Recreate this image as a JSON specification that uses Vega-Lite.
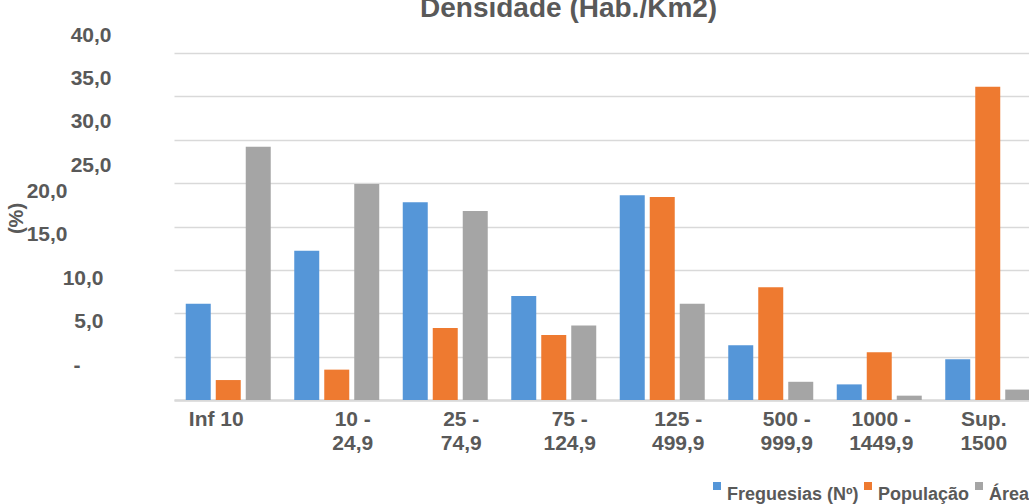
{
  "$schema": "https://vega.github.io/schema/vega-lite/v6.json",
  "width": 855,
  "height": 347,
  "autosize": {"type": "none"},
  "padding": {"left": 174, "top": 53, "right": 0, "bottom": 104},
  "background": "white",
  "title": {
    "text": "Densidade (Hab./Km2)",
    "font": "Liberation Sans",
    "fontSize": 28,
    "fontWeight": "bold",
    "color": "#595959",
    "anchor": "start",
    "frame": "group",
    "dx": 246,
    "dy": 21,
    "baseline": "alphabetic",
    "offset": 0
  },
  "data": {
    "values": [
      {"dens": "Inf 10", "serie": "Freguesias (Nº)", "valor": 11.1},
      {"dens": "Inf 10", "serie": "População", "valor": 2.3},
      {"dens": "Inf 10", "serie": "Área", "valor": 29.2},
      {"dens": "10 -\n24,9", "serie": "Freguesias (Nº)", "valor": 17.2},
      {"dens": "10 -\n24,9", "serie": "População", "valor": 3.5},
      {"dens": "10 -\n24,9", "serie": "Área", "valor": 24.9},
      {"dens": "25 -\n74,9", "serie": "Freguesias (Nº)", "valor": 22.8},
      {"dens": "25 -\n74,9", "serie": "População", "valor": 8.3},
      {"dens": "25 -\n74,9", "serie": "Área", "valor": 21.8},
      {"dens": "75 -\n124,9", "serie": "Freguesias (Nº)", "valor": 12.0},
      {"dens": "75 -\n124,9", "serie": "População", "valor": 7.5},
      {"dens": "75 -\n124,9", "serie": "Área", "valor": 8.6},
      {"dens": "125 -\n499,9", "serie": "Freguesias (Nº)", "valor": 23.6},
      {"dens": "125 -\n499,9", "serie": "População", "valor": 23.4},
      {"dens": "125 -\n499,9", "serie": "Área", "valor": 11.1},
      {"dens": "500 -\n999,9", "serie": "Freguesias (Nº)", "valor": 6.3},
      {"dens": "500 -\n999,9", "serie": "População", "valor": 13.0},
      {"dens": "500 -\n999,9", "serie": "Área", "valor": 2.1},
      {"dens": "1000 -\n1449,9", "serie": "Freguesias (Nº)", "valor": 1.8},
      {"dens": "1000 -\n1449,9", "serie": "População", "valor": 5.5},
      {"dens": "1000 -\n1449,9", "serie": "Área", "valor": 0.5},
      {"dens": "Sup.\n1500", "serie": "Freguesias (Nº)", "valor": 4.7},
      {"dens": "Sup.\n1500", "serie": "População", "valor": 36.1},
      {"dens": "Sup.\n1500", "serie": "Área", "valor": 1.2}
    ]
  },
  "mark": {"type": "bar"},
  "encoding": {
    "x": {
      "field": "dens",
      "type": "nominal",
      "sort": null,
      "scale": {"paddingInner": 0.2166, "paddingOuter": 0.1083, "range": [0, 868]},
      "axis": {
        "title": null,
        "labelAngle": 0,
        "labelExpr": "split(datum.label, '\\n')",
        "labelFont": "Liberation Sans",
        "labelFontSize": 21,
        "labelFontWeight": "bold",
        "labelColor": "#595959",
        "labelLineHeight": 24,
        "labelPadding": 8,
        "labelOffset": {
          "condition": [
            {"test": "datum.value == 'Inf 10'", "value": -12},
            {"test": "substring(datum.value, 0, 4) == '1000'", "value": 2},
            {"test": "substring(datum.value, 0, 3) == 'Sup'", "value": -4}
          ],
          "value": 16
        },
        "ticks": false,
        "domainColor": "#d9d9d9",
        "domainWidth": 2.5,
        "grid": false
      }
    },
    "xOffset": {
      "field": "serie",
      "sort": ["Freguesias (Nº)", "População", "Área"],
      "scale": {"paddingInner": 0.1667, "paddingOuter": 0}
    },
    "y": {
      "field": "valor",
      "type": "quantitative",
      "scale": {"domain": [0, 40], "nice": false},
      "axis": {
        "values": [0, 5, 10, 15, 20, 25, 30, 35, 40],
        "labelExpr": "datum.value == 0 ? '-' : replace(format(datum.value, '.1f'), '.', ',')",
        "ticks": false,
        "domain": false,
        "grid": true,
        "gridColor": "#d9d9d9",
        "gridWidth": 1.5,
        "labelFont": "Liberation Sans",
        "labelFontSize": 21,
        "labelFontWeight": "bold",
        "labelColor": "#595959",
        "labelPadding": {
          "condition": [
            {"test": "datum.value == 20 || datum.value == 15", "value": 107},
            {"test": "datum.value == 0", "value": 94},
            {"test": "datum.value == 10 || datum.value == 5", "value": 71}
          ],
          "value": 63
        },
        "labelOffset": {
          "condition": {"test": "datum.value <= 20", "value": -35},
          "value": -18
        },
        "title": "(%)",
        "titleX": -158,
        "titleY": 165,
        "titleAngle": -90,
        "titleAlign": "center",
        "titleBaseline": "middle",
        "titleFont": "Liberation Sans",
        "titleFontSize": 20,
        "titleFontWeight": "bold",
        "titleColor": "#595959"
      }
    },
    "color": {
      "field": "serie",
      "type": "nominal",
      "sort": ["Freguesias (Nº)", "População", "Área"],
      "scale": {
        "domain": ["Freguesias (Nº)", "População", "Área"],
        "range": ["#5596D8", "#EE7A30", "#A5A5A5"]
      },
      "legend": {
        "orient": "none",
        "legendX": 534,
        "legendY": 424,
        "direction": "horizontal",
        "title": null,
        "symbolType": "square",
        "symbolSize": 64,
        "symbolStrokeWidth": 0,
        "labelFont": "Liberation Sans",
        "labelFontSize": 18,
        "labelFontWeight": "bold",
        "labelColor": "#595959",
        "labelBaseline": "top",
        "labelOffset": 1,
        "columnPadding": -4,
        "padding": 0,
        "labelLimit": 300
      }
    }
  },
  "config": {"view": {"stroke": null}}
}
